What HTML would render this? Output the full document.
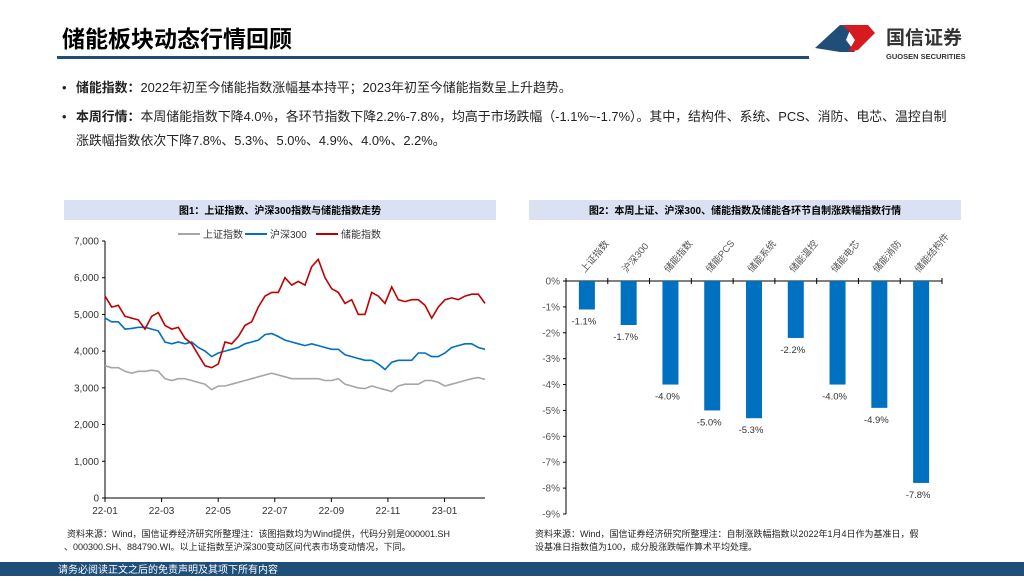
<!DOCTYPE html>
<html><head><meta charset="utf-8">
<style>
body{margin:0;width:1024px;height:576px;overflow:hidden;background:#fff;font-family:"Liberation Sans","Noto Sans CJK SC",sans-serif;}
</style></head>
<body>
<svg id="page" width="1024" height="576" xmlns="http://www.w3.org/2000/svg" font-family="Liberation Sans, Noto Sans CJK SC, sans-serif">
  <text x="62" y="47" font-size="23" font-weight="bold" fill="#000">储能板块动态行情回顾</text>
  <rect x="57" y="56" width="752" height="3" fill="#1F4E79"/>
  <g>
    <polygon points="815,48 840,25 852,25 846,40 855,52 840,52" fill="#1F4E79"/>
    <polygon points="842,25 868,25 875,33 858,50 848,52 855,40 848,30" fill="#D71920"/>
    <text x="886" y="44" font-size="19" font-weight="bold" fill="#333">国信证券</text>
    <text x="886" y="59" font-size="7.5" font-weight="bold" fill="#333">GUOSEN SECURITIES</text>
  </g>
  <g font-size="12.9" fill="#222">
    <text x="62" y="92">•</text>
    <text x="76" y="92"><tspan font-weight="bold">储能指数：</tspan>2022年初至今储能指数涨幅基本持平；2023年初至今储能指数呈上升趋势。</text>
    <text x="62" y="121">•</text>
    <text x="76" y="121"><tspan font-weight="bold">本周行情：</tspan>本周储能指数下降4.0%，各环节指数下降2.2%-7.8%，均高于市场跌幅（-1.1%~-1.7%）。其中，结构件、系统、PCS、消防、电芯、温控自制</text>
    <text x="76" y="145">涨跌幅指数依次下降7.8%、5.3%、5.0%、4.9%、4.0%、2.2%。</text>
  </g>

  <rect x="64" y="200" width="432" height="20" fill="#D9E1F2"/>
  <text x="280" y="214" font-size="10" font-weight="bold" text-anchor="middle">图1：上证指数、沪深300指数与储能指数走势</text>
  <g id="c1"></g>

  <rect x="529" y="200" width="432" height="20" fill="#D9E1F2"/>
  <text x="745" y="214" font-size="10" font-weight="bold" text-anchor="middle">图2：本周上证、沪深300、储能指数及储能各环节自制涨跌幅指数行情</text>
  <g id="c2"></g>

  <g font-size="9" fill="#222">
    <text x="67" y="537">资料来源：Wind，国信证券经济研究所整理注：该图指数均为Wind提供，代码分别是000001.SH</text>
    <text x="64" y="550">、000300.SH、884790.WI。以上证指数至沪深300变动区间代表市场变动情况，下同。</text>
    <text x="535" y="537">资料来源：Wind，国信证券经济研究所整理注：自制涨跌幅指数以2022年1月4日作为基准日，假</text>
    <text x="535" y="550">设基准日指数值为100，成分股涨跌幅作算术平均处理。</text>
  </g>
  <rect x="0" y="562" width="1024" height="14" fill="#1F4E79"/>
  <text x="58" y="573" font-size="10" fill="#fff">请务必阅读正文之后的免责声明及其项下所有内容</text>
</svg>
<script>
const yTicks=[0,1000,2000,3000,4000,5000,6000,7000];
const xTickLabels=["22-01","22-03","22-05","22-07","22-09","22-11","23-01"];
const xTickMonths=[0,2,4,6,8,10,12];
const totalMonths=13.43;
const seriesNames=["上证指数","沪深300","储能指数"];
const shIndex=[3600,3550,3550,3450,3400,3450,3450,3480,3450,3250,3200,3250,3250,3200,3150,3100,2950,3050,3050,3100,3150,3200,3250,3300,3350,3400,3350,3300,3250,3250,3250,3250,3250,3200,3200,3250,3100,3050,3000,2980,3050,3000,2950,2900,3050,3100,3100,3100,3200,3200,3150,3050,3100,3150,3200,3250,3280,3230];
const hs300=[4900,4800,4800,4600,4620,4650,4650,4600,4550,4250,4200,4250,4200,4250,4100,4000,3850,3950,4000,4050,4100,4200,4250,4300,4450,4480,4400,4300,4250,4200,4150,4200,4150,4100,4050,4050,3900,3850,3800,3750,3750,3650,3500,3700,3750,3750,3750,3950,3950,3850,3850,3950,4100,4150,4200,4200,4100,4050];
const storageIdx=[5500,5200,5250,4950,4900,4850,4600,4950,5050,4700,4600,4650,4350,4200,3900,3600,3550,3650,4250,4200,4400,4700,4800,5200,5500,5600,5600,6000,5800,5900,5800,6300,6500,6000,5700,5600,5300,5400,5000,5000,5600,5500,5300,5750,5400,5350,5400,5400,5250,4900,5200,5400,5450,5400,5500,5550,5550,5300];

const categories=["上证指数","沪深300","储能指数","储能PCS","储能系统","储能温控","储能电芯","储能消防","储能结构件"];
const changes=[-1.1,-1.7,-4.0,-5.0,-5.3,-2.2,-4.0,-4.9,-7.8];
const pctTicks=[0,-1,-2,-3,-4,-5,-6,-7,-8,-9];

const NS="http://www.w3.org/2000/svg";
function mk(tag,attrs,parent,txt){const e=document.createElementNS(NS,tag);for(const k in attrs)e.setAttribute(k,attrs[k]);if(txt!==undefined)e.textContent=txt;parent.appendChild(e);return e;}

const c1=document.getElementById('c1');
const L=105,R=485,T=241,B=498;
const y1=v=>B-(v/7000)*(B-T);
const xM=m=>L+m/totalMonths*(R-L);
const xI=(i,n)=>L+i/(n-1)*(R-L);
yTicks.forEach(v=>{
  const t=mk('text',{x:L-6,y:y1(v)+3.5,'font-size':10,'text-anchor':'end',fill:'#333'},c1,v.toLocaleString('en-US'));
  
  
  mk('line',{x1:L-3,x2:L,y1:y1(v),y2:y1(v),stroke:'#000'},c1);
});
xTickMonths.forEach((m,i)=>{
  mk('line',{x1:xM(m),x2:xM(m),y1:B,y2:B+4,stroke:'#000'},c1);
  const t=mk('text',{x:xM(m),y:B+16,'font-size':10,'text-anchor':'middle',fill:'#333'},c1,xTickLabels[i]);
  
  
});
const ax=mk('path',{d:`M${L},${T} V${B} H${R}`,fill:'none',stroke:'#000','stroke-width':1},c1);


const colors=['#A6A6A6','#0070C0','#C00000'];
[shIndex,hs300,storageIdx].forEach((s,k)=>{
  const d=s.map((v,i)=>(i?'L':'M')+xI(i,s.length).toFixed(1)+','+y1(v).toFixed(1)).join('');
  const p=mk('path',{d,fill:'none',stroke:colors[k],'stroke-width':1.6},c1);
  
  
});
const lx=[178,245,316];
seriesNames.forEach((n,k)=>{
  const g=mk('g',{},c1);
  
  
  mk('line',{x1:lx[k],x2:lx[k]+22,y1:234,y2:234,stroke:colors[k],'stroke-width':2},g);
  mk('text',{x:lx[k]+25,y:238,'font-size':10,fill:'#333'},g,n);
});

const c2=document.getElementById('c2');
const L2=566,R2=942,T2=281,B2=514;
const y2=v=>T2+(-v/9)*(B2-T2);
const slot=(R2-L2)/categories.length;
pctTicks.forEach(v=>{
  const t=mk('text',{x:L2-6,y:y2(v)+3.5,'font-size':10,'text-anchor':'end',fill:'#555'},c2,v+'%');
  
  
  mk('line',{x1:L2-3,x2:L2,y1:y2(v),y2:y2(v),stroke:'#000'},c2);
});
mk('line',{x1:L2,x2:L2,y1:T2,y2:B2,stroke:'#000'},c2);
mk('line',{x1:L2,x2:R2,y1:T2,y2:T2,stroke:'#000'},c2);
for(let i=0;i<=categories.length;i++)mk('line',{x1:L2+i*slot,x2:L2+i*slot,y1:T2-3,y2:T2+3,stroke:'#000'},c2);
categories.forEach((c,i)=>{
  const cx=L2+slot*(i+0.5);
  const b=mk('rect',{x:cx-8,y:T2,width:16,height:y2(changes[i])-T2,fill:'#0070C0'},c2);
  
  
  const v=mk('text',{x:cx-3,y:y2(changes[i])+15,'font-size':9.5,'text-anchor':'middle',fill:'#333'},c2,changes[i].toFixed(1)+'%');
  
  
  const t=mk('text',{x:cx-2,y:T2-8,'font-size':9.5,'text-anchor':'start',fill:'#555',transform:`rotate(-50 ${cx-2} ${T2-8})`},c2,c);
  
  
});
</script>
</body></html>
